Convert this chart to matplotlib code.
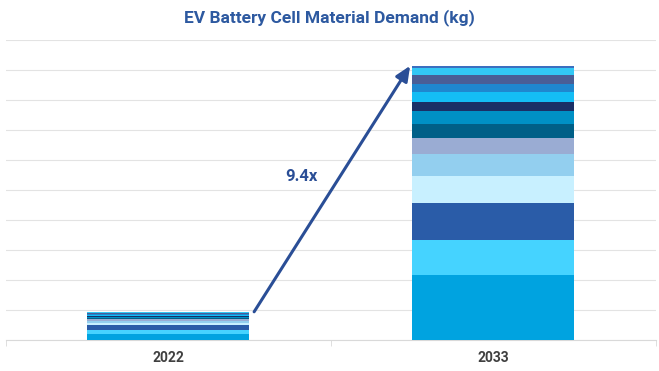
import matplotlib
matplotlib.use("Agg")
import matplotlib.pyplot as plt
import numpy as np

# ---- data ----
categories = ["2022", "2033"]
materials = [f"Material {i}" for i in range(1, 15)]
values_2022 = [2.0, 1.5, 1.4, 0.8, 0.7, 0.5, 0.5, 0.4, 0.3, 0.35, 0.3, 0.3, 0.25, 0.1]
values_2033 = [21.7, 11.7, 12.3, 8.9, 7.5, 5.1, 4.7, 4.4, 3.1, 3.3, 2.7, 3.1, 2.2, 0.7]
colors = ["#00A3E0", "#45D3FF", "#2A5CA8", "#C8F0FF", "#93CFEF", "#9AACD3",
          "#005F87", "#0090C5", "#1A2F66", "#14BDF5", "#1F87CF", "#4A5E96",
          "#33C8F5", "#3B6FC0"]
title = "EV Battery Cell Material Demand (kg)"
growth_label = "9.4x"

plt.rcParams['font.family'] = ['Roboto', 'DejaVu Sans']

fig = plt.figure(figsize=(6.59, 3.71), dpi=100)
ax = fig.add_axes([5.5 / 659, 31 / 371, 650 / 659, 300 / 371])

x = np.arange(len(categories))
width = 0.5
bottoms = np.zeros(len(categories))
for i in range(len(materials)):
    vals = np.array([values_2022[i], values_2033[i]])
    ax.bar(x, vals, width=width, bottom=bottoms, color=colors[i],
           linewidth=0, zorder=3, label=materials[i])
    bottoms += vals

ax.set_xlim(-0.5, 1.5)
ax.set_ylim(0, 100)
ax.set_yticks(np.arange(0, 101, 10))
ax.set_yticklabels([])
ax.tick_params(axis='y', length=0)
ax.grid(axis='y', color='#E3E3E3', linewidth=0.8, zorder=0)
ax.set_xticks(x)
ax.set_xticklabels(categories, fontsize=10, fontweight='bold', color='#404040')
ax.tick_params(axis='x', length=0, pad=8)
ax.set_xticks([-0.5, 0.5, 1.5], minor=True)
ax.tick_params(axis='x', which='minor', length=4, color='#D9D9D9')
for s in ['top', 'right', 'left']:
    ax.spines[s].set_visible(False)
ax.spines['bottom'].set_color('#D9D9D9')
ax.spines['bottom'].set_linewidth(0.8)

tot = bottoms
ax.annotate("", xy=(x[1] - width / 2 - 0.005, tot[1]),
            xytext=(x[0] + width / 2 + 0.015, tot[0]),
            arrowprops=dict(arrowstyle='-|>,head_length=0.9,head_width=0.4',
                            color='#2A4E96', lw=2.2, shrinkA=0, shrinkB=0),
            zorder=4)
ax.text(0.41, 54.5, growth_label, fontsize=12, fontweight='bold',
        color='#2A4E96', ha='center', va='center')

fig.suptitle(title, x=0.5, y=1 - 18 / 371, va='center', fontsize=12.5,
             fontweight='bold', color='#2D59A0')

fig.savefig("out.png", dpi=100, facecolor='white')
